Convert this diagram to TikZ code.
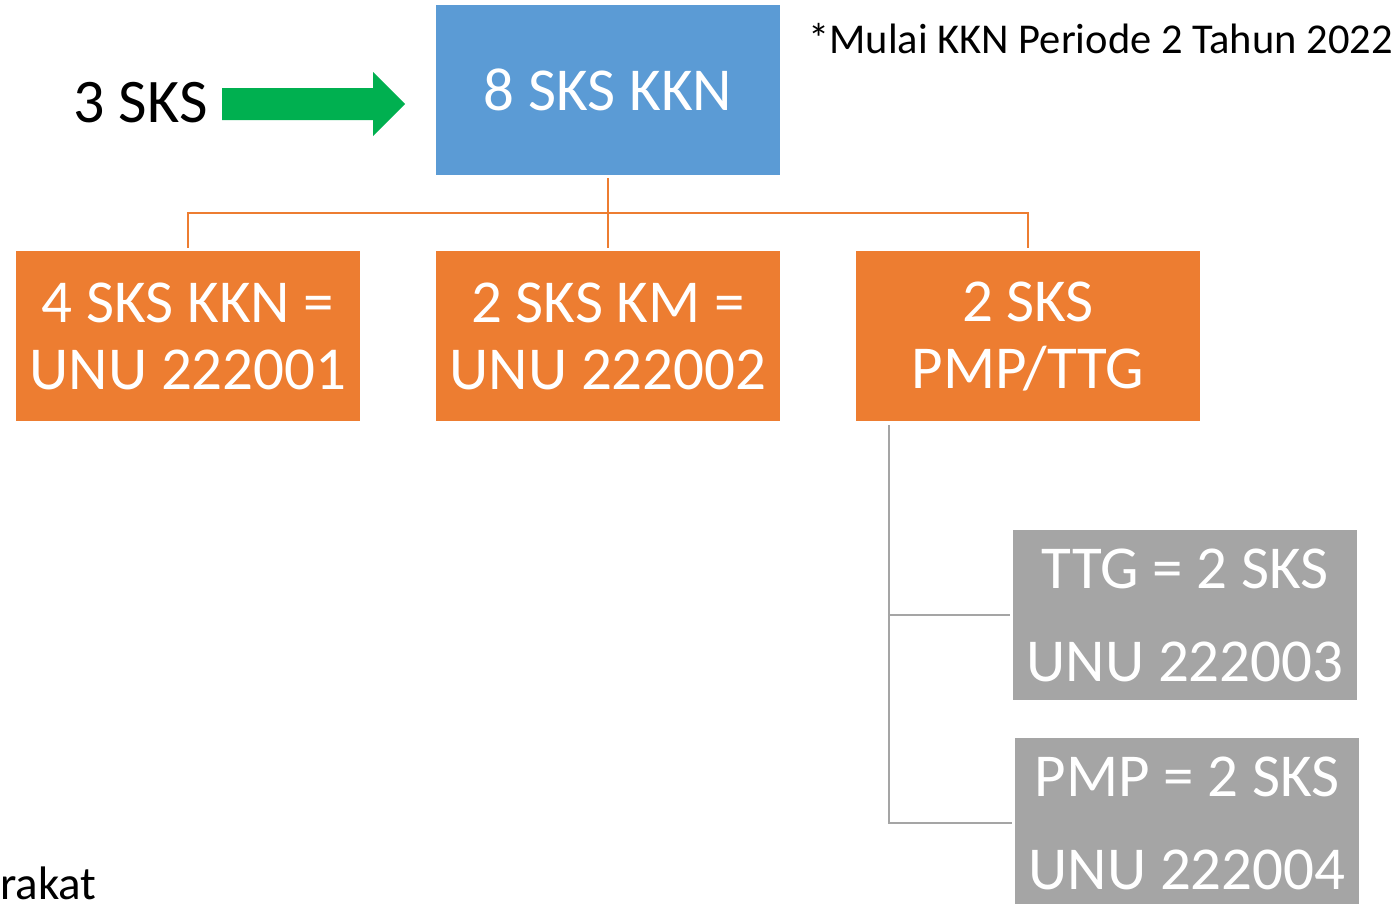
\documentclass[tikz,border=0pt]{standalone}
\usepackage{fontspec}
\setmainfont{Carlito}
\usetikzlibrary{calc}

\definecolor{kknblue}{HTML}{5B9BD5}
\definecolor{kknorange}{HTML}{ED7D31}
\definecolor{kkngray}{HTML}{A5A5A5}
\definecolor{kkngreen}{HTML}{00B050}

\begin{document}
\begin{tikzpicture}[x=1pt, y=-1pt,
  box/.style={minimum width=344pt, minimum height=170pt, inner sep=0pt,
    text=white, align=center, font=\fontsize{61}{67}\selectfont},
  bluebox/.style={box, fill=kknblue},
  orangebox/.style={box, fill=kknorange},
  graybox/.style={box, fill=kkngray, font=\fontsize{61}{93}\selectfont},
  orangeline/.style={draw=kknorange, line width=2.5pt},
  grayline/.style={draw=kkngray, line width=2.5pt}]

\useasboundingbox (0,0) rectangle (1397,903);
\clip (0,0) rectangle (1397,903);

% top box and arrow
\node[bluebox] (kkn) at (608,90) {8 SKS KKN};
\node[anchor=base west, font=\fontsize{62}{70}\selectfont] (tiga) at (70,122) {3 SKS};
\fill[kkngreen] (222,88) -- (373,88) -- (373,72) -- (405,104) -- (373,136)
  -- (373,120) -- (222,120) -- cycle;
\node[anchor=base west, inner sep=0pt, font=\fontsize{42.5}{48}\selectfont] (note) at (808,53) {*Mulai KKN Periode 2 Tahun 2022};

% second level
\node[orangebox] (unu1) at (188,336) {4 SKS KKN =\\UNU 222001};
\node[orangebox] (unu2) at (608,336) {2 SKS KM =\\UNU 222002};
\node[orangebox] (pmpttg) at (1028,336) {2 SKS\\PMP/TTG};

\draw[orangeline] ([yshift=-3]kkn.south) -- ([yshift=3]unu2.north);
\draw[orangeline] ([yshift=3]unu1.north) -- ++(0,-35) -| ([yshift=3]pmpttg.north);

% third level
\node[graybox] (ttg) at (1185,615) {TTG = 2 SKS\\UNU 222003};
\node[graybox] (pmp) at (1187,823) {PMP = 2 SKS\\UNU 222004};

\coordinate (spine) at ([xshift=33,yshift=-4]pmpttg.south west);
\draw[grayline] ([xshift=-3]ttg.west) -| (spine);
\draw[grayline] ([xshift=-3]pmp.west) -| (spine);

\node[anchor=base west, inner sep=0pt, font=\fontsize{47}{52}\selectfont] (rakat) at (0,899) {rakat};

\end{tikzpicture}
\end{document}
